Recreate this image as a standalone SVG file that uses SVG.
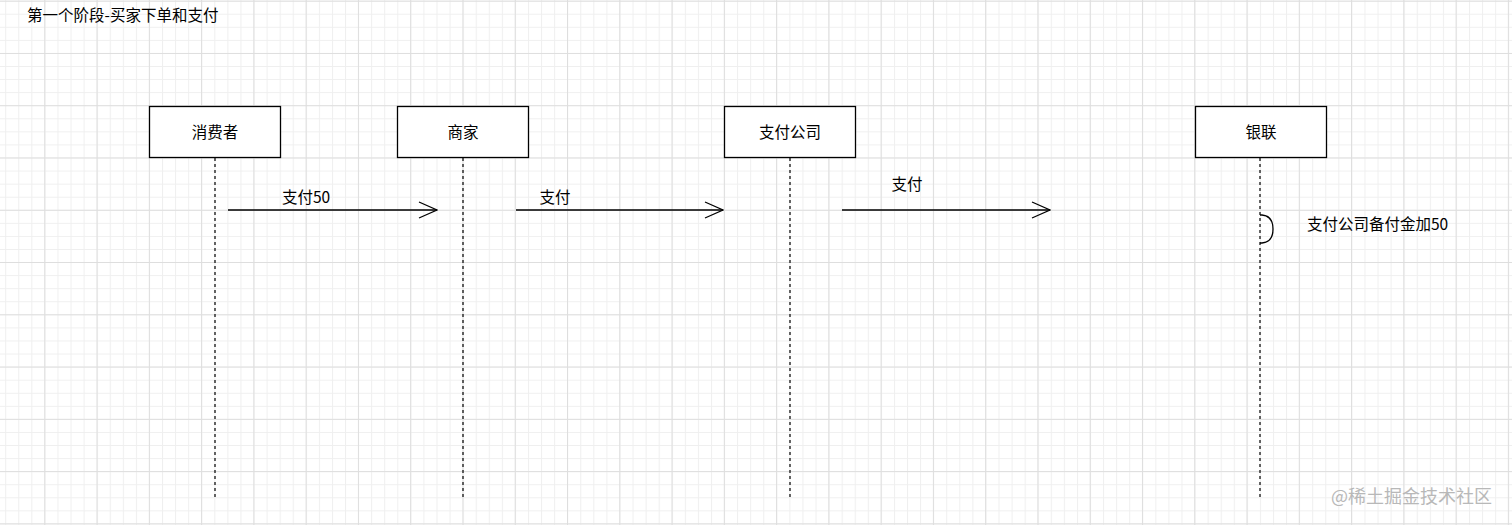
<svg xmlns="http://www.w3.org/2000/svg" width="1512" height="525" viewBox="0 0 1512 525">
<style>
.node rect{fill:#fff;stroke:#000;stroke-width:1.3}
.lbl{font-family:"Noto Sans CJK SC","Liberation Sans",sans-serif;font-size:15.5px;fill:#000}
.life{stroke:#000;stroke-width:1.2;stroke-dasharray:3 3;fill:none}
.msg{stroke:#000;stroke-width:1.3;fill:none}
</style>
<defs>
<pattern id="minor" patternUnits="userSpaceOnUse" x="5.2" y="0.68" width="13.07" height="13.07">
<path d="M0,0.5H13.07M0.5,0V13.07" stroke="#efefef" stroke-width="1" fill="none"/>
</pattern>
<pattern id="major" patternUnits="userSpaceOnUse" x="44.3" y="0.68" width="52.27" height="52.27">
<path d="M0,0.5H52.27M0.5,0V52.27" stroke="#dedede" stroke-width="1" fill="none"/>
</pattern>
<marker id="open" viewBox="0 0 20 18" refX="19" refY="9" markerWidth="20" markerHeight="18" markerUnits="userSpaceOnUse" orient="auto">
<path d="M1,1 L19,9 L1,17" fill="none" stroke="#000" stroke-width="1.3"/>
</marker>
</defs>
<rect width="1512" height="525" fill="#fff"/>
<rect width="1512" height="525" fill="url(#minor)"/>
<rect width="1512" height="525" fill="url(#major)"/>
<text class="lbl" x="27" y="21" font-size="14.8">第一个阶段-买家下单和支付</text>
<g id="lifelines">
<path class="life" d="M215,158V497"/>
<path class="life" d="M463,158V497"/>
<path class="life" d="M790,158V497"/>
<path class="life" d="M1260,158V497"/>
</g>
<g id="n1" class="node"><rect x="149.5" y="106.5" width="131" height="51"/><text class="lbl" x="215" y="137.5" text-anchor="middle">消费者</text></g>
<g id="n2" class="node"><rect x="397.5" y="106.5" width="131" height="51"/><text class="lbl" x="463" y="137.5" text-anchor="middle">商家</text></g>
<g id="n3" class="node"><rect x="724.5" y="106.5" width="131" height="51"/><text class="lbl" x="790" y="137.5" text-anchor="middle">支付公司</text></g>
<g id="n4" class="node"><rect x="1195.5" y="106.5" width="131" height="51"/><text class="lbl" x="1261" y="137.5" text-anchor="middle">银联</text></g>
<g id="connectors">
<path class="msg" d="M228,210H437" marker-end="url(#open)"/>
<path class="msg" d="M516,210H723" marker-end="url(#open)"/>
<path class="msg" d="M842,210H1050" marker-end="url(#open)"/>
<path class="msg" d="M1260,215H1262Q1273,216 1273,229Q1273,242 1262,243H1260"/>
</g>
<g id="labels">
<text class="lbl" x="306" y="203" text-anchor="middle">支付50</text>
<text class="lbl" x="555" y="203" text-anchor="middle">支付</text>
<text class="lbl" x="907" y="190" text-anchor="middle">支付</text>
<text class="lbl" x="1307" y="229.5">支付公司备付金加50</text>
</g>
<text x="1331" y="503" style="font-family:'Noto Sans CJK SC',sans-serif;font-size:18px;fill:#b8b8b8">@稀土掘金技术社区</text>
</svg>
